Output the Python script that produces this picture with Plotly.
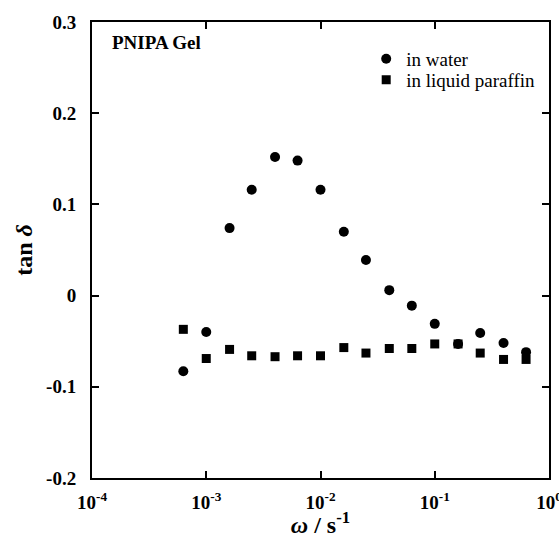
import plotly.graph_objects as go

omega = [6.3e-4, 1.0e-3, 1.6e-3, 2.5e-3, 4.0e-3, 6.3e-3, 1.0e-2, 1.6e-2,
         2.5e-2, 4.0e-2, 6.3e-2, 0.10, 0.16, 0.25, 0.40, 0.63]
tan_water = [-0.083, -0.040, 0.074, 0.116, 0.152, 0.148, 0.116, 0.070,
             0.039, 0.006, -0.011, -0.031, -0.053, -0.041, -0.052, -0.062]
tan_paraffin = [-0.037, -0.069, -0.059, -0.066, -0.067, -0.066, -0.066, -0.057,
                -0.063, -0.058, -0.058, -0.053, -0.053, -0.063, -0.070, -0.070]

x_tickvals = [1e-4, 1e-3, 1e-2, 1e-1, 1]
x_ticktext = ["10<sup>-4</sup>", "10<sup>-3</sup>", "10<sup>-2</sup>", "10<sup>-1</sup>", "10<sup>0</sup>"]
y_tickvals = [-0.2, -0.1, 0, 0.1, 0.2, 0.3]
y_ticktext = ["-0.2", "-0.1", "0", "0.1", "0.2", "0.3"]

FONT = "Liberation Serif, Times New Roman, serif"

fig = go.Figure()
fig.add_trace(go.Scatter(x=omega, y=tan_water, mode="markers", name="in water",
                         legend="legend",
                         marker=dict(symbol="circle", size=10, color="black")))
fig.add_trace(go.Scatter(x=omega, y=tan_paraffin, mode="markers", name="in liquid paraffin",
                         legend="legend2",
                         marker=dict(symbol="square", size=9, color="black")))

axis_common = dict(showline=True, linewidth=2, linecolor="black", mirror="ticks",
                   ticks="inside", ticklen=7, tickwidth=2, tickcolor="black",
                   showgrid=False, zeroline=False, automargin=False,
                   ticklabeloverflow="allow")

fig.update_xaxes(type="log", range=[-4, 0], tickvals=x_tickvals, ticktext=x_ticktext,
                 ticklabelstandoff=6,
                 tickfont=dict(family=FONT, size=19, color="black", weight="bold"),
                 title=dict(text="<i>ω</i> / s<sup>-1</sup>", standoff=12,
                            font=dict(family=FONT, size=24, color="black", weight="bold")),
                 **axis_common)
fig.update_yaxes(range=[-0.2, 0.3], tickvals=y_tickvals, ticktext=y_ticktext,
                 ticklabelstandoff=10,
                 tickfont=dict(family=FONT, size=19, color="black", weight="bold"),
                 title=dict(text="tan <i>δ</i>", standoff=7,
                            font=dict(family=FONT, size=24, color="black", weight="bold")),
                 **axis_common)

fig.add_annotation(text="PNIPA Gel", xref="paper", yref="paper", x=0.04, y=0.956,
                   xanchor="left", yanchor="middle", showarrow=False,
                   font=dict(family=FONT, size=19, color="black", weight="bold"))

legend_common = dict(xanchor="left", yanchor="middle", bgcolor="rgba(0,0,0,0)",
                     font=dict(family=FONT, size=19, color="black"))

fig.update_layout(
    width=559, height=538,
    margin=dict(l=92, r=10, t=22, b=60, autoexpand=False),
    paper_bgcolor="white", plot_bgcolor="white",
    font=dict(family=FONT, color="black"),
    showlegend=True,
    legend=dict(x=0.6, y=0.919, visible=True, **legend_common),
    legend2=dict(x=0.6, y=0.873, visible=True, **legend_common),
)

fig.write_html("out.html", config={"displayModeBar": False},
               post_script="document.body.style.margin='0';")
